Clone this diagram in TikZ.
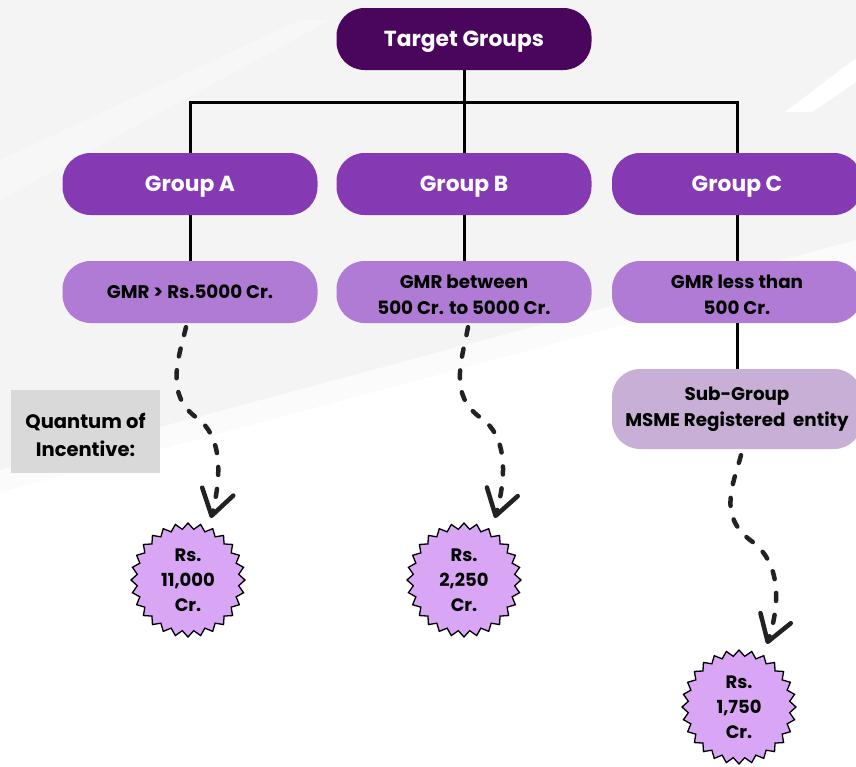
\documentclass[tikz,border=0pt]{standalone}
\usepackage{fontspec}
\setmainfont{Poppins}
\usetikzlibrary{arrows.meta,shapes.symbols,calc}
\definecolor{bggray}{HTML}{F4F4F4}
\definecolor{tgt}{HTML}{4A065C}
\definecolor{grp}{HTML}{853AB4}
\definecolor{gmr}{HTML}{B07BD4}
\definecolor{subc}{HTML}{C7AFD6}
\definecolor{burstc}{HTML}{D9A6F6}
\definecolor{qbox}{HTML}{D9D9D9}
\definecolor{arrowc}{HTML}{222222}
\begin{document}
\begin{tikzpicture}[x=1pt,y=-1pt,
  pill/.style={rectangle, rounded corners=28pt, minimum width=255pt, minimum height=62pt, align=center, inner sep=0pt},
  toptext/.style={text=white, font=\fontsize{21.8}{26}\selectfont\bfseries, text height=15pt, text depth=0pt},
  gmrtext/.style={text=black, font=\fontsize{18.3}{26}\selectfont\bfseries},
  conn/.style={line width=3pt, black},
  dasharrow/.style={draw=arrowc, line width=4.5pt, line cap=round, dash pattern=on 8pt off 14pt,
    -{Straight Barb[length=25pt,width=32pt,round]}},
  burst/.style={starburst, starburst points=28, starburst point height=6pt, random starburst=0,
    draw=black, line width=1.3pt, fill=burstc, minimum width=114pt, minimum height=114pt,
    align=center, inner sep=0pt, text=black, font=\fontsize{18}{25}\selectfont\bfseries}
]
\useasboundingbox (0,0) rectangle (856,766);
\clip (0,0) rectangle (856,766);
% background
\fill[bggray] (0,0) rectangle (856,766);
\fill[white] (0,492) -- (856,262) -- (856,766) -- (0,766) -- cycle;
\fill[white!60!bggray] (0,470) -- (856,240) -- (856,262) -- (0,492) -- cycle;
\fill[white] (785,112) -- (856,58) -- (856,82) -- (812,112) -- cycle;
\fill[white!30!bggray] (0,160) -- (300,20) -- (330,20) -- (0,200) -- cycle;

% nodes
\node[pill, fill=tgt, toptext] (T) at (464,39) {Target Groups};
\node[pill, fill=grp, toptext] (GA) at (190,184) {Group A};
\node[pill, fill=grp, toptext] (GB) at (464,184) {Group B};
\node[pill, fill=grp, toptext, minimum width=250pt] (GC) at (737,184) {Group C};
\node[pill, fill=gmr, gmrtext] (MA) at (190,292) {GMR > Rs.5000 Cr.};
\node[pill, fill=gmr, gmrtext] (MB) at (464,292) {\rule{0pt}{20pt}GMR between\\500 Cr. to 5000 Cr.};
\node[pill, fill=gmr, gmrtext, minimum width=250pt] (MC) at (737,292) {\rule{0pt}{19pt}GMR less than\\500 Cr.};
\node[pill, fill=subc, gmrtext, minimum width=250pt, minimum height=80pt] (SUB) at (737,409) {Sub-Group\\MSME Registered\ \ entity};
\node[rectangle, fill=qbox, minimum width=149pt, minimum height=83pt, align=center, inner sep=0pt,
  font=\fontsize{19.5}{28}\selectfont\bfseries] (Q) at (85.5,431.5) {\rule{0pt}{22pt}Quantum of\\Incentive:};
\node[burst] (PA) at (188,580) {Rs.\\11,000\\Cr.};
\node[burst] (PB) at (464,580) {Rs.\\2,250\\Cr.};
\node[burst] (PC) at (739,707) {Rs.\\1,750\\Cr.};

% connectors
\coordinate (bus) at (464,102);
\draw[conn] (T.south) -- (GB.north);
\draw[conn] (GA.north) -- (GA.north |- bus) -- (GC.north |- bus) -- (GC.north);
\draw[conn] (GA.south) -- (MA.north);
\draw[conn] (GB.south) -- (MB.north);
\draw[conn] (GC.south) -- (MC.north);
\draw[conn] (MC.south) -- (SUB.north);

\draw[dasharrow] ($(MA.south)+(-4,4)$) .. controls (178,360) and (165,395) .. (197,418)
  .. controls (222,436) and (222,475) .. ($(PA.center)+(23,-62)$);
\draw[dasharrow] ($(MB.south)+(4,4)$) .. controls (462,360) and (448,395) .. (481,418)
  .. controls (507,436) and (507,475) .. ($(PB.center)+(31,-62)$);
\draw[dasharrow] ($(SUB.south)+(4,6)$) .. controls (733,485) and (718,515) .. (750,540)
  .. controls (782,562) and (780,605) .. ($(PC.center)+(28,-63)$);
\end{tikzpicture}
\end{document}
